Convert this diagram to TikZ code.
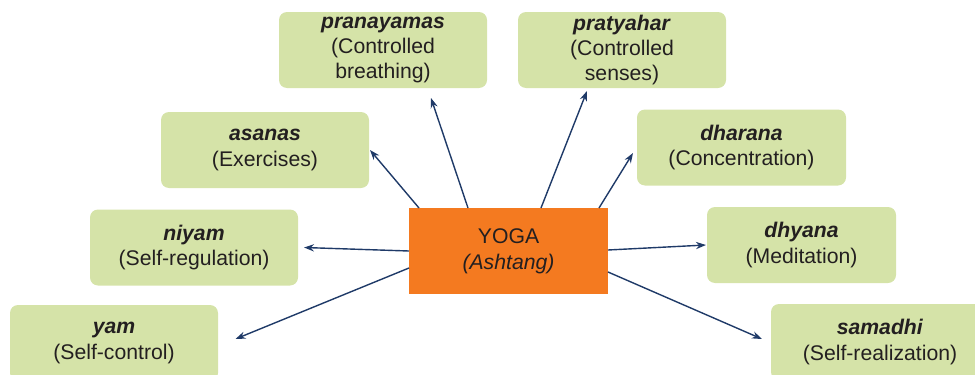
\documentclass[tikz,border=0pt]{standalone}
\usepackage{fontspec}
\setmainfont{Liberation Sans}
\usepackage{tikz}
\usetikzlibrary{arrows.meta}
\definecolor{limbgreen}{HTML}{D5E3A8}
\definecolor{yogaorange}{HTML}{F47A20}
\definecolor{linkblue}{HTML}{1F3A68}
\definecolor{inkdark}{HTML}{231F20}
\tikzset{
  limb/.style={fill=limbgreen, rounded corners=4pt, align=center, inner sep=1pt,
    outer sep=0pt, minimum width=104pt, minimum height=38pt, text=inkdark,
    font=\fontsize{10.6}{12.7}\selectfont},
  core/.style={fill=yogaorange, align=center, inner sep=1pt, outer sep=0pt,
    minimum width=99.5pt, minimum height=43pt, text=inkdark,
    font=\fontsize{10.6}{12.9}\selectfont},
  link/.style={draw=linkblue, line width=0.7pt, -{Stealth[length=5pt,width=3.6pt]}}
}
\newcommand{\limbname}[1]{\textbf{\textit{#1}}}
\begin{document}
\begin{tikzpicture}[x=0.5pt,y=-0.5pt]
            \useasboundingbox (0,0) rectangle (975,375);
            % centre
            \node[core] (yoga) at (508.5,251) {YOGA\\\textit{(Ashtang)}};
            % the eight limbs
            \node[limb] (yam) at (114,343) {\limbname{yam}\\(Self-control)};
            \node[limb] (niyam) at (194,247.5) {\limbname{niyam}\\(Self-regulation)};
            \node[limb] (asanas) at (265,150) {\limbname{asanas}\\(Exercises)};
            \node[limb] (pranayamas) at (383,50) {\limbname{pranayamas}\\(Controlled\\breathing)};
            \node[limb] (pratyahar) at (622,50) {\limbname{pratyahar}\\(Controlled\\senses)};
            \node[limb, minimum width=104.5pt] (dharana) at (741.5,147.5) {\limbname{dharana}\\(Concentration)};
            \node[limb, minimum width=94.5pt] (dhyana) at (801.5,245) {\limbname{dhyana}\\(Meditation)};
            \node[limb, minimum width=109pt] (samadhi) at (880,342) {\limbname{samadhi}\\(Self-realization)};
            % arrows
            \draw[link] ([shift={(0,17)}]yoga.west) -- ([shift={(17.5,-4)}]yam.east);
            \draw[link] (yoga.west) -- ([shift={(6,0)}]niyam.east);
            \draw[link] ([shift={(10,0)}]yoga.north west) -- ([shift={(1,0)}]asanas.east);
            \draw[link] ([shift={(59,0)}]yoga.north west) -- ([shift={(48,10)}]pranayamas.south);
            \draw[link] ([shift={(132,0)}]yoga.north west) -- ([shift={(-35,3)}]pratyahar.south);
            \draw[link] ([shift={(-9,0)}]yoga.north east) -- ([shift={(-4,5.5)}]dharana.west);
            \draw[link] ([shift={(0,-1)}]yoga.east) -- ([shift={(-1,0)}]dhyana.west);
            \draw[link] ([shift={(0,21)}]yoga.east) -- ([shift={(-9,-3)}]samadhi.west);
        \end{tikzpicture}
\end{document}
